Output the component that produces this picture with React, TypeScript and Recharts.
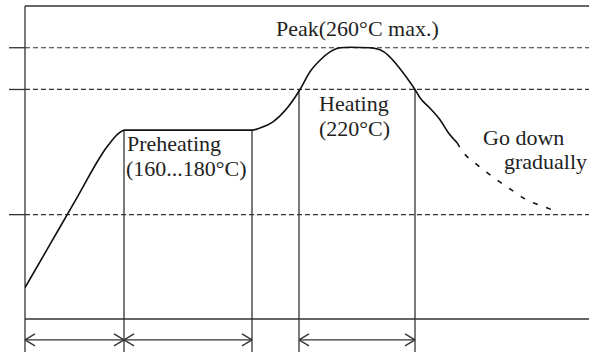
import React from "react";
import { LineChart, Line, XAxis, YAxis, ReferenceLine, Customized } from "recharts";

// time (arbitrary units) vs temperature (°C)
const heatingCurve = [
  { t: 0, temp: 30 }, { t: 25, temp: 71.5 }, { t: 50, temp: 113 }, { t: 75, temp: 155 },
  { t: 80, temp: 162.5 }, { t: 86, temp: 170 },
  { t: 93, temp: 177.5 }, { t: 100, temp: 181 }, { t: 227, temp: 181 }, { t: 235, temp: 183 },
  { t: 248, temp: 189 }, { t: 262, temp: 202 }, { t: 275, temp: 220 }, { t: 285, temp: 237 },
  { t: 295, temp: 248 }, { t: 305, temp: 256 }, { t: 315, temp: 260 }, { t: 325, temp: 260.5 },
  { t: 345, temp: 260 }, { t: 355, temp: 258 }, { t: 363, temp: 253 }, { t: 372, temp: 243.5 },
  { t: 382, temp: 231 }, { t: 390, temp: 220 }, { t: 395, temp: 212 }, { t: 405, temp: 202 },
  { t: 415, temp: 191 }, { t: 423, temp: 179 }, { t: 432, temp: 169 },
];
const coolingCurve = [
  { t: 432, temp: 169 }, { t: 438, temp: 160 }, { t: 452, temp: 148 }, { t: 468, temp: 136 },
  { t: 483, temp: 126 }, { t: 502, temp: 114 }, { t: 527, temp: 104.5 }, { t: 531, temp: 102.5 },
];
const levelTemps = [260, 220, 100];
const zoneBoundaries = [
  { t: 99, temp: 181 }, { t: 227, temp: 181 }, { t: 274, temp: 220 }, { t: 390, temp: 220 },
];
const zoneSpans = [[0, 99], [99, 227], [274, 390]];
const peakLabel = "Peak(260°C max.)";
const preheatLabel = ["Preheating", "(160...180°C)"];
const heatLabel = ["Heating", "(220°C)"];
const coolLabel = ["Go down", "gradually"];

const T_MAX = 564;
const Y_MAX = 300;
const BELOW = -32; // bottom of drawing (below axis)
const ARROW_Y = -20;
const ARROW_DX = 10;
const ARROW_DY = 5.75;

const LINE = "#333";
const FONT = "'Liberation Serif', 'Times New Roman', serif";

const Labels = () => (
  <g fontFamily={FONT} fontSize={22} fill="#222">
    <text x={276} y={36}>{peakLabel}</text>
    <text x={127} y={151}>{preheatLabel[0]}</text>
    <text x={126} y={176}>{preheatLabel[1]}</text>
    <text x={319} y={111}>{heatLabel[0]}</text>
    <text x={319} y={136}>{heatLabel[1]}</text>
    <text x={483} y={145}>{coolLabel[0]}</text>
    <text x={504} y={169}>{coolLabel[1]}</text>
  </g>
);

export default function App() {
  const segs: any[] = [];
  // frame
  segs.push([{ t: 0, y: Y_MAX }, { t: T_MAX, y: Y_MAX }]);
  segs.push([{ t: 0, y: Y_MAX }, { t: 0, y: BELOW }]);
  segs.push([{ t: 0, y: 0 }, { t: T_MAX, y: 0 }]);
  // left ticks
  levelTemps.forEach((v) => segs.push([{ t: -16, y: v }, { t: 0, y: v }]));
  // zone verticals
  zoneBoundaries.forEach((b) => segs.push([{ t: b.t, y: b.temp }, { t: b.t, y: BELOW }]));
  // arrows
  zoneSpans.forEach(([a, b]) => {
    segs.push([{ t: a, y: ARROW_Y }, { t: b, y: ARROW_Y }]);
    segs.push([{ t: a, y: ARROW_Y }, { t: a + ARROW_DX, y: ARROW_Y + ARROW_DY }]);
    segs.push([{ t: a, y: ARROW_Y }, { t: a + ARROW_DX, y: ARROW_Y - ARROW_DY }]);
    segs.push([{ t: b, y: ARROW_Y }, { t: b - ARROW_DX, y: ARROW_Y + ARROW_DY }]);
    segs.push([{ t: b, y: ARROW_Y }, { t: b - ARROW_DX, y: ARROW_Y - ARROW_DY }]);
  });

  return (
    <div style={{ position: "absolute", left: 0, top: 0 }}>
      <LineChart
        width={589}
        height={352}
        margin={{ top: 6, right: 0, bottom: 33, left: 25 }}
        style={{ background: "#fff" }}
      >
        <XAxis type="number" dataKey="t" domain={[0, T_MAX]} hide allowDataOverflow />
        <YAxis type="number" domain={[0, Y_MAX]} hide allowDataOverflow />
        {levelTemps.map((v) => (
          <ReferenceLine
            key={"lv" + v}
            y={v}
            stroke={LINE}
            strokeWidth={1.2}
            strokeDasharray="5 3"
            ifOverflow="visible"
          />
        ))}
        {segs.map((s, i) => (
          <ReferenceLine
            key={"s" + i}
            segment={[{ x: s[0].t, y: s[0].y }, { x: s[1].t, y: s[1].y }]}
            stroke={LINE}
            strokeWidth={1.3}
            ifOverflow="visible"
          />
        ))}
        <Line
          data={heatingCurve}
          dataKey="temp"
          type="monotone"
          stroke="#111"
          strokeWidth={1.6}
          dot={false}
          isAnimationActive={false}
        />
        <Line
          data={coolingCurve}
          dataKey="temp"
          type="monotone"
          stroke="#111"
          strokeWidth={1.6}
          strokeDasharray="5 9"
          dot={false}
          isAnimationActive={false}
        />
        <Customized component={Labels} />
      </LineChart>
    </div>
  );
}
